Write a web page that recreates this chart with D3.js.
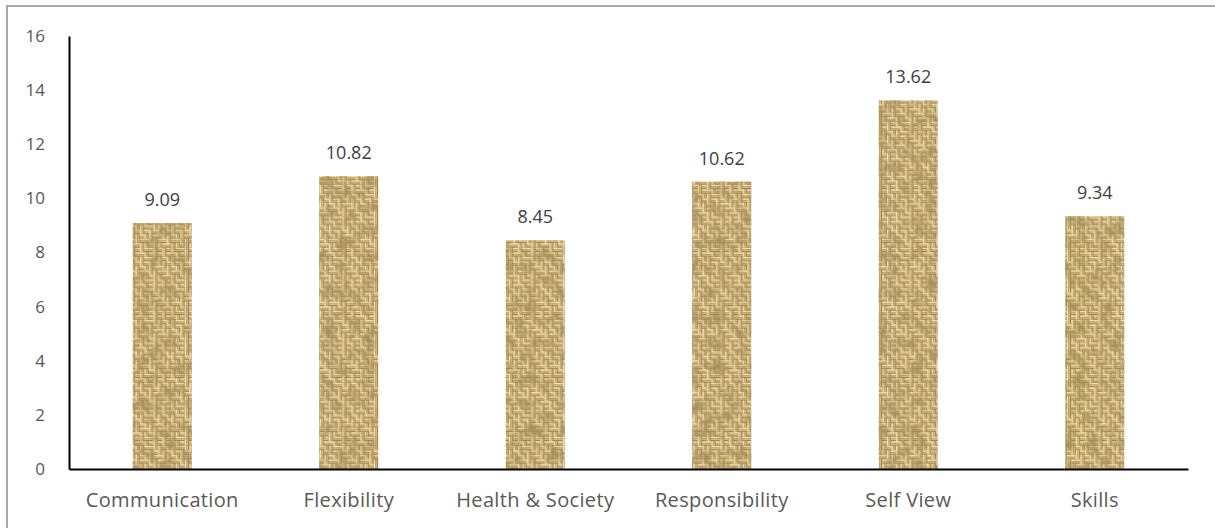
<!DOCTYPE html>
<html>
<head>
<meta charset="utf-8">
<script src="https://cdn.jsdelivr.net/npm/d3@7"></script>
<style>
  html, body { margin: 0; padding: 0; background: #fff; }
  svg { display: block; font-family: "Open Sans", "Noto Sans", sans-serif; }
</style>
</head>
<body>
<svg id="chart" width="1215" height="528"></svg>
<script>
// Scores per category
const categories = ["Communication", "Flexibility", "Health & Society", "Responsibility", "Self View", "Skills"];
const scores = [9.09, 10.82, 8.45, 10.62, 13.62, 9.34];
const yTicks = [0, 2, 4, 6, 8, 10, 12, 14, 16];

const svg = d3.select("#chart");
const W = 1215, H = 528;
const plot = { left: 69, right: 1188, top: 36, bottom: 469 };
const FONT = "\"Open Sans\", \"Noto Sans\", sans-serif";

// Outer frame
svg.append("rect")
  .attr("x", 7).attr("y", 6)
  .attr("width", W + 20).attr("height", H + 20)
  .attr("fill", "#fff")
  .attr("stroke", "#8c8c8c").attr("stroke-width", 1.5);

// Woven burlap fill: a tile of small thread cells, H = horizontal, V = vertical
const weave = [
  "HVHHVHV",
  "VHVVHHV",
  "VVHVHVH",
  "HVVHVVH",
  "HHVHHVV",
  "VHHVVHV",
  "HVHVHHV"
];
const CELL = 4.5;
const TILE = CELL * weave.length;
const defs = svg.append("defs");
const pat = defs.append("pattern")
  .attr("id", "burlap")
  .attr("patternUnits", "userSpaceOnUse")
  .attr("width", TILE).attr("height", TILE);
pat.append("rect").attr("width", TILE).attr("height", TILE).attr("fill", "#ae8e52");
const light = "#f4e6b8", mid = "#d6bb80", dark = "#6a512c";
weave.forEach((row, r) => {
  row.split("").forEach((o, c) => {
    const x0 = c * CELL, y0 = r * CELL;
    const g = pat.append("g");
    if (o === "H") {
      g.append("rect").attr("x", x0).attr("y", y0 + 0.3).attr("width", CELL).attr("height", 1.5).attr("fill", light);
      g.append("rect").attr("x", x0).attr("y", y0 + 2.4).attr("width", CELL).attr("height", 1.3).attr("fill", mid);
      g.append("rect").attr("x", x0).attr("y", y0 + 3.9).attr("width", CELL).attr("height", 0.6).attr("fill", dark).attr("opacity", 0.4);
    } else {
      g.append("rect").attr("x", x0 + 0.3).attr("y", y0).attr("width", 1.5).attr("height", CELL).attr("fill", light);
      g.append("rect").attr("x", x0 + 2.4).attr("y", y0).attr("width", 1.3).attr("height", CELL).attr("fill", mid);
      g.append("rect").attr("x", x0 + 3.9).attr("y", y0).attr("width", 0.6).attr("height", CELL).attr("fill", dark).attr("opacity", 0.4);
    }
  });
});

// Mottled shading over the weave
const filt = defs.append("filter").attr("id", "mottle")
  .attr("x", 0).attr("y", 0).attr("width", 1).attr("height", 1);
filt.append("feTurbulence").attr("type", "fractalNoise")
  .attr("baseFrequency", 0.08).attr("numOctaves", 2).attr("seed", 7).attr("result", "noise");
filt.append("feColorMatrix").attr("in", "noise").attr("type", "matrix")
  .attr("values", "0 0 0 0 0.38  0 0 0 0 0.27  0 0 0 0 0.1  0 0 -2.2 0 1.3")
  .attr("result", "shade");
filt.append("feComposite").attr("in", "shade").attr("in2", "SourceGraphic").attr("operator", "in").attr("result", "shadeIn");
filt.append("feMerge").call(m => {
  m.append("feMergeNode").attr("in", "SourceGraphic");
  m.append("feMergeNode").attr("in", "shadeIn");
});

const x = d3.scaleBand()
  .domain(categories)
  .range([plot.left, plot.right])
  .paddingInner(0.684)
  .paddingOuter(0.342);

const y = d3.scaleLinear()
  .domain([0, 16])
  .range([plot.bottom, plot.top]);

// Bars
svg.append("g").selectAll("rect")
  .data(categories)
  .join("rect")
  .attr("x", d => x(d))
  .attr("y", (d, i) => y(scores[i]))
  .attr("width", x.bandwidth())
  .attr("height", (d, i) => y(0) - y(scores[i]))
  .attr("fill", "url(#burlap)")
  .attr("filter", "url(#mottle)");

// Value labels
svg.append("g").selectAll("text")
  .data(categories)
  .join("text")
  .attr("x", d => x(d) + x.bandwidth() / 2)
  .attr("y", (d, i) => y(scores[i]) - 17)
  .attr("text-anchor", "middle")
  .attr("font-size", 18)
  .attr("font-family", FONT)
  .attr("fill", "#404040")
  .text((d, i) => scores[i].toFixed(2));

// Y axis (line only, no tick marks)
const yAxis = svg.append("g")
  .attr("transform", `translate(${plot.left},0)`)
  .call(d3.axisLeft(y).tickValues(yTicks).tickSize(0).tickPadding(24).tickFormat(d3.format("d")));
yAxis.select(".domain").attr("stroke", "#000").attr("stroke-width", 2);
yAxis.selectAll("text").attr("font-size", 17).attr("fill", "#595959").attr("font-family", FONT);

// X axis
const xAxis = svg.append("g")
  .attr("transform", `translate(0,${plot.bottom})`)
  .call(d3.axisBottom(x).tickSize(0).tickPadding(24));
xAxis.select(".domain").attr("stroke", "#000").attr("stroke-width", 2);
xAxis.selectAll("text").attr("font-size", 20).attr("letter-spacing", 0.35)
  .attr("fill", "#595959").attr("font-family", FONT);
</script>
</body>
</html>
